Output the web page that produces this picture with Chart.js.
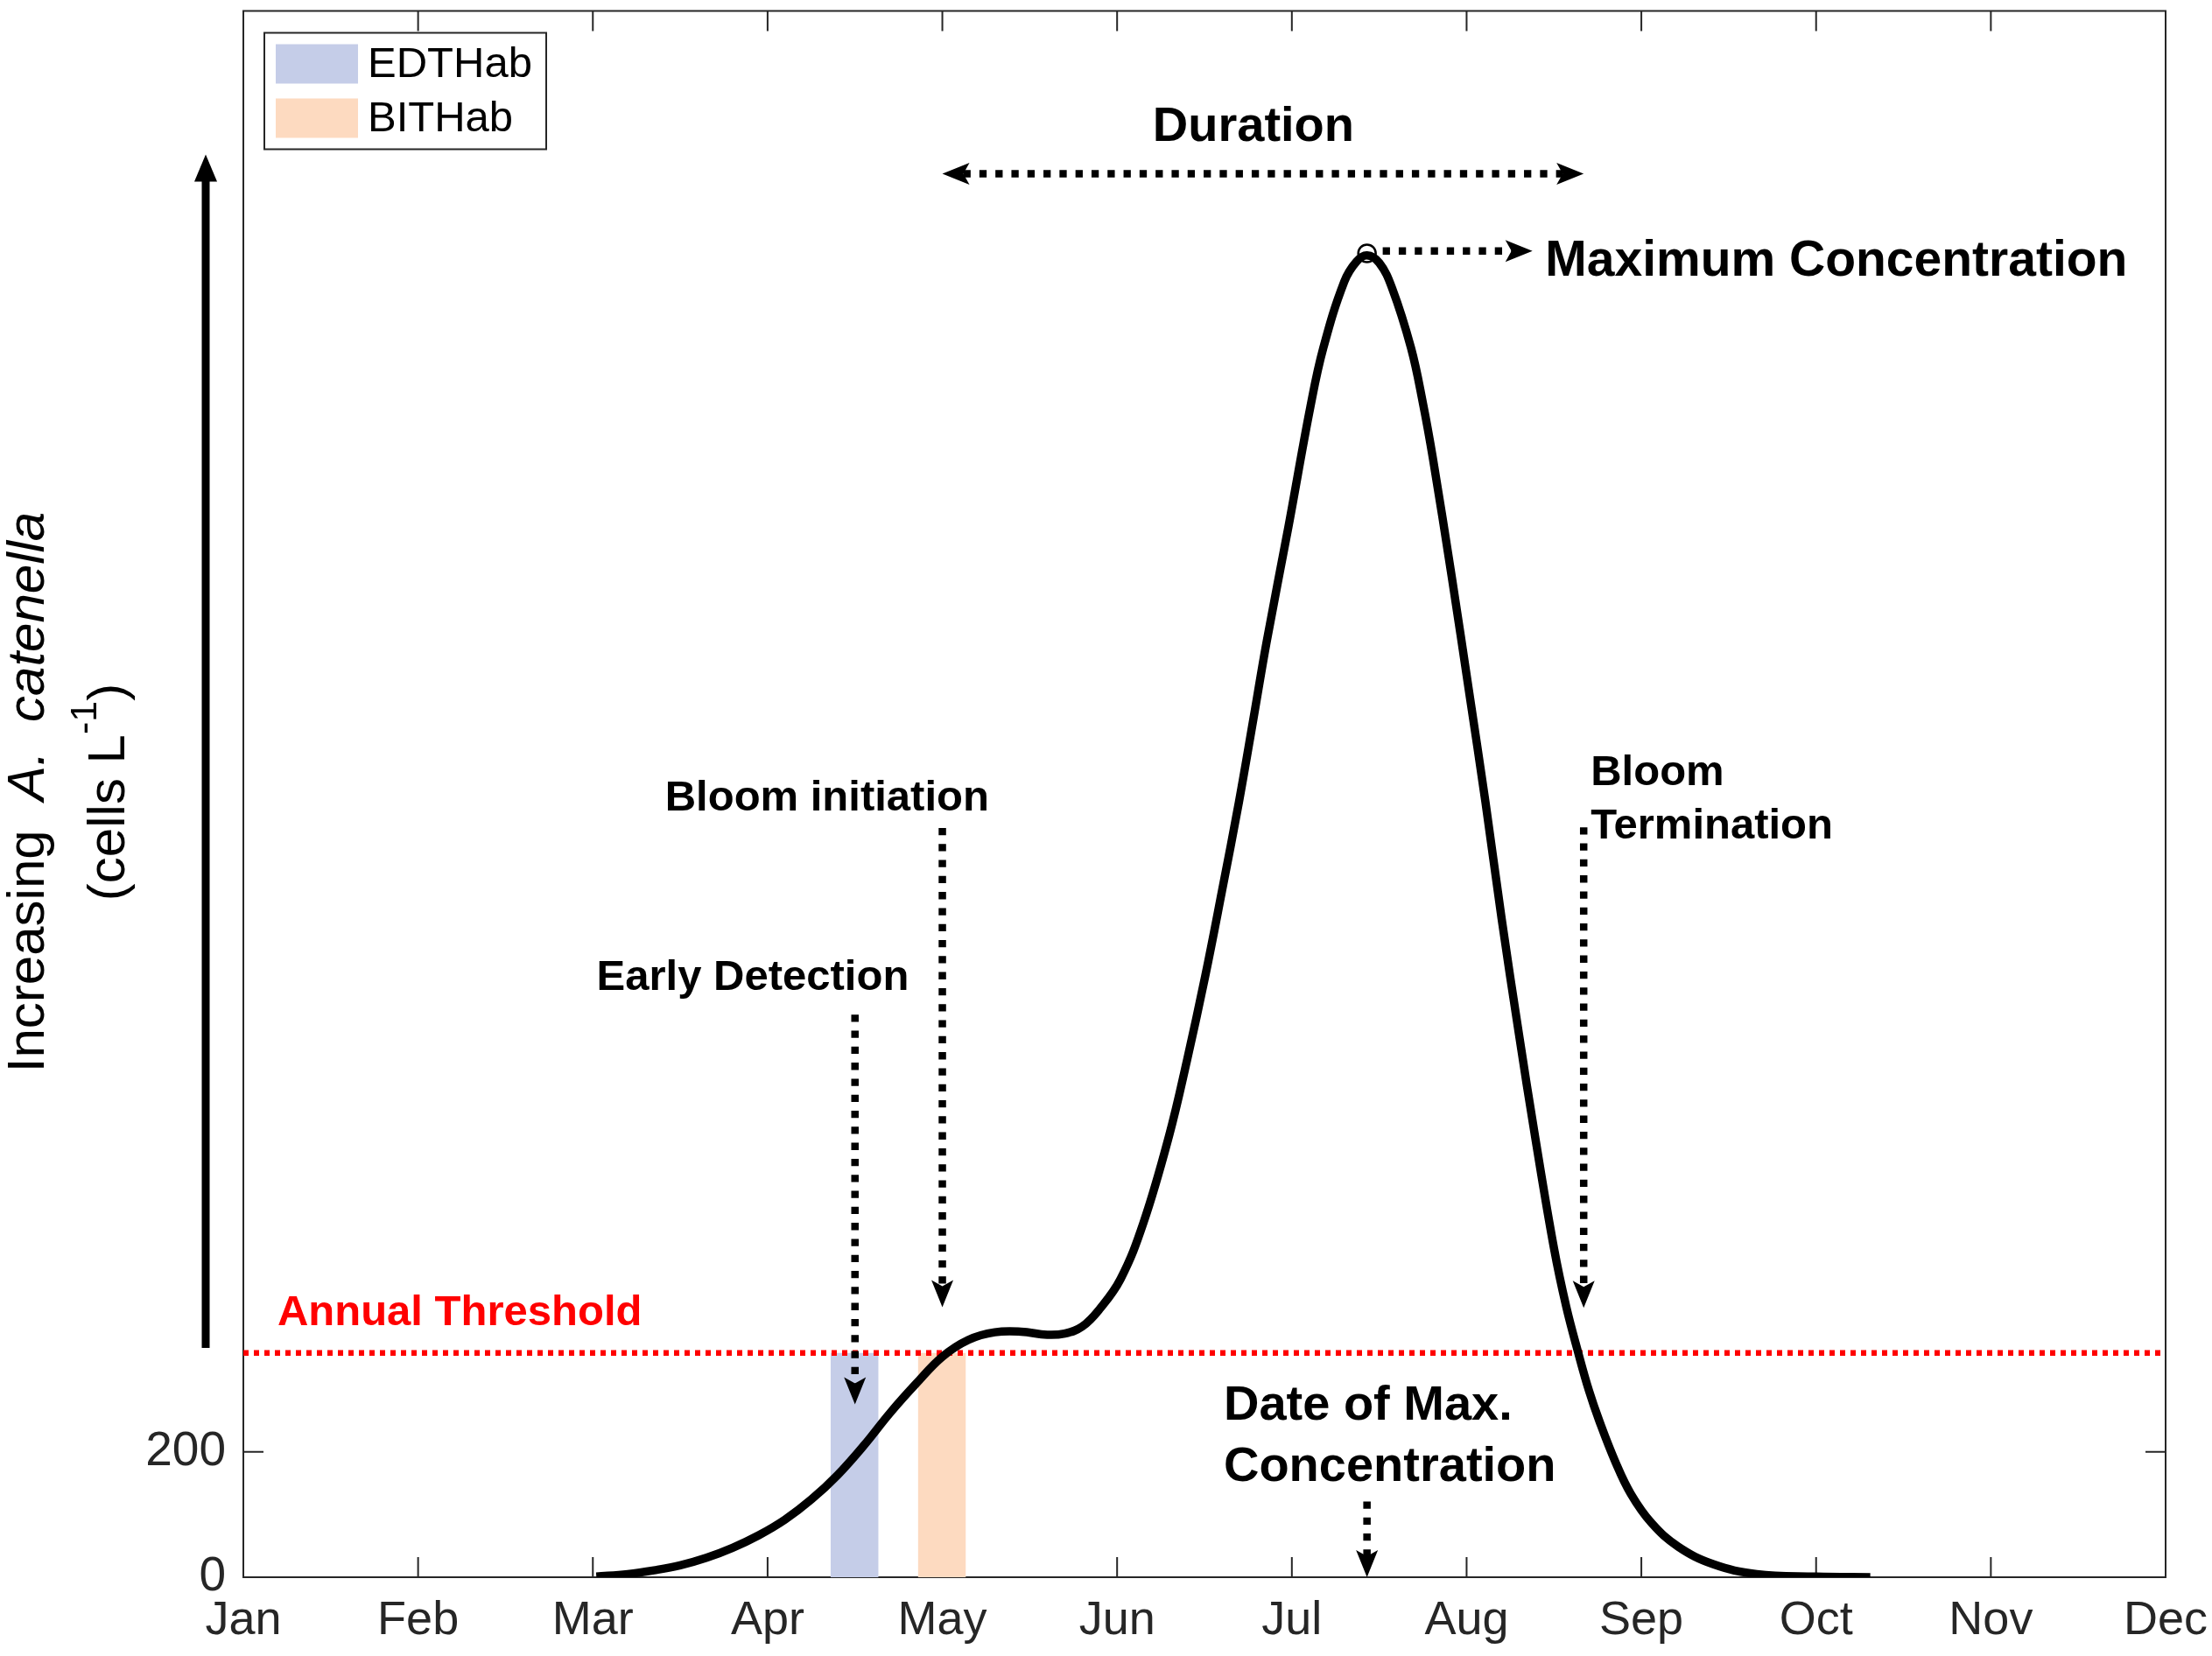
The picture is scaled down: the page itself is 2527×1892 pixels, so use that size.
<!DOCTYPE html>
<html>
<head>
<meta charset="utf-8">
<script src="https://cdn.jsdelivr.net/npm/chart.js@4.4.0/dist/chart.umd.min.js"></script>
<style>
html,body{margin:0;padding:0;background:#fff;overflow:hidden}
canvas{display:block}
</style>
</head>
<body>
<canvas id="c" width="2527" height="1892"></canvas>
<script>
// ---------------- DATA ----------------
const monthLabels = ['Jan','Feb','Mar','Apr','May','Jun','Jul','Aug','Sep','Oct','Nov','Dec'];
const yTickValues = [0, 200];
const yAxisMax = 2500;

// month index (0 = Jan) and cell concentration
const curveMonths = [2.02,2.20,2.35,2.50,2.65,2.80,2.95,3.10,3.25,3.40,3.55,3.70,3.85,4.00,4.15,4.30,4.45,4.60,4.70,4.80,4.90,5.02,5.15,5.296,5.40,5.504,5.60,5.697,5.78,5.855,5.98,6.106,6.18,6.30,6.37,6.43,6.50,6.573,6.682,6.75,6.807,6.916,7.016,7.108,7.20,7.30,7.392,7.50,7.57,7.64,7.70,7.76,7.85,7.94,8.06,8.21,8.41,8.66,9.00,9.31];
const curveCells  = [1,5,11,19,31,47,67,92,124,163,210,262,309,352,379,391,392,387,389,400,428,476,565,703,825,959,1095,1237,1370,1492,1676,1868,1962,2068,2100,2110,2098,2058,1962,1874,1786,1595,1410,1237,1052,866,703,525,432,357,298,249,185,133,86,49,21,5,1,0];

const annualThreshold = 358;
const thresholdMonths = [0, 11];
const edthabWindow = [3.36, 3.635];
const bithabWindow = [3.86, 4.135];

const peakMonth = 6.43;
const peakCells = 2113;
const earlyDetectionMonth = 3.50;
const bloomInitiationMonth = 4.00;
const bloomTerminationMonth = 7.67;

// ---------------- BUILD ----------------
const FONT = '"Liberation Sans", Arial, Helvetica, sans-serif';
const curvePoints = curveMonths.map((m, i) => ({x: m, y: curveCells[i]}));
const windowRect = w => [{x:w[0],y:0},{x:w[0],y:annualThreshold},{x:w[1],y:annualThreshold},{x:w[1],y:0}];

// annotation layout (data-space anchors)
const arrowNotes = [
  {x1: earlyDetectionMonth, y1: 898,  x2: earlyDetectionMonth, y2: 276, both:false},
  {x1: bloomInitiationMonth, y1: 1196, x2: bloomInitiationMonth, y2: 431, both:false},
  {x1: bloomTerminationMonth, y1: 1197, x2: bloomTerminationMonth, y2: 430, both:false},
  {x1: peakMonth, y1: 121, x2: peakMonth, y2: 0, both:false},
  {x1: bloomInitiationMonth, y1: 2240, x2: bloomTerminationMonth, y2: 2240, both:true},
  {x1: peakMonth + 0.09, y1: 2117, x2: 7.377, y2: 2117, both:false}
];
const textNotes = [
  {lines:['Duration'], x:5.78, y:2293, align:'center', size:56, gap:0},
  {lines:['Maximum Concentration'], x:7.45, y:2077, align:'left', size:57, gap:0},
  {lines:['Bloom initiation'], x:3.34, y:1224, align:'center', size:49, gap:0},
  {lines:['Early Detection'], x:2.915, y:938, align:'center', size:49, gap:0},
  {lines:['Bloom','Termination'], x:7.71, y:1265, align:'left', size:49, gap:61},
  {lines:['Date of Max.','Concentration'], x:5.61, y:251, align:'left', size:56, gap:70},
  {lines:['Annual Threshold'], x:0.195, y:402, align:'left', size:49, gap:0, color:'#ff0000'}
];

function arrowHead(ctx, tx, ty, ux, uy) {
  const L = 31, W = 25, notch = 7;
  const bx = tx - ux * L, by = ty - uy * L;
  const nx = -uy, ny = ux;
  ctx.beginPath();
  ctx.moveTo(tx, ty);
  ctx.lineTo(bx + nx * W / 2, by + ny * W / 2);
  ctx.lineTo(tx - ux * (L - notch), ty - uy * (L - notch));
  ctx.lineTo(bx - nx * W / 2, by - ny * W / 2);
  ctx.closePath();
  ctx.fill();
}
function dottedArrow(ctx, x1, y1, x2, y2, both) {
  const dx = x2 - x1, dy = y2 - y1, len = Math.hypot(dx, dy);
  const ux = dx / len, uy = dy / len;
  const back = 24;
  const sx = both ? x1 + ux * back : x1, sy = both ? y1 + uy * back : y1;
  const ex = x2 - ux * back, ey = y2 - uy * back;
  ctx.save();
  ctx.strokeStyle = '#000'; ctx.fillStyle = '#000';
  ctx.lineWidth = 8.5; ctx.lineCap = 'butt';
  ctx.setLineDash([8.3, 10]);
  ctx.beginPath(); ctx.moveTo(sx, sy); ctx.lineTo(ex, ey); ctx.stroke();
  ctx.setLineDash([]);
  arrowHead(ctx, x2, y2, ux, uy);
  if (both) arrowHead(ctx, x1, y1, -ux, -uy);
  ctx.restore();
}

const framePlugin = {
  id: 'frame',
  beforeDatasetsDraw(chart) {
    const {ctx, chartArea: a, scales: {x, y}} = chart;
    ctx.save();
    ctx.strokeStyle = '#262626'; ctx.lineWidth = 2;
    ctx.strokeRect(a.left, a.top, a.right - a.left, a.bottom - a.top);
    const TL = 23;
    ctx.beginPath();
    x.ticks.forEach(t => {
      const X = x.getPixelForValue(t.value);
      ctx.moveTo(X, a.bottom); ctx.lineTo(X, a.bottom - TL);
      ctx.moveTo(X, a.top); ctx.lineTo(X, a.top + TL);
    });
    y.ticks.forEach(t => {
      const Y = y.getPixelForValue(t.value);
      ctx.moveTo(a.left, Y); ctx.lineTo(a.left + TL, Y);
      ctx.moveTo(a.right, Y); ctx.lineTo(a.right - TL, Y);
    });
    ctx.stroke();
    ctx.restore();
  },
  afterDatasetsDraw(chart) {
    const {ctx, chartArea: a, scales: {x, y}} = chart;
    const px = v => x.getPixelForValue(v), py = v => y.getPixelForValue(v);
    arrowNotes.forEach(n => dottedArrow(ctx, px(n.x1), py(n.y1), px(n.x2), py(n.y2), n.both));
    ctx.save();
    ctx.textBaseline = 'alphabetic';
    textNotes.forEach(n => {
      ctx.font = `bold ${n.size}px ${FONT}`;
      ctx.fillStyle = n.color || '#000';
      ctx.textAlign = n.align;
      n.lines.forEach((ln, i) => ctx.fillText(ln, px(n.x), py(n.y) + i * n.gap));
    });
    ctx.restore();

    // legend
    ctx.save();
    const lx = a.left + 24, ly = a.top + 25, lw = 322, lh = 133;
    ctx.fillStyle = '#fff'; ctx.fillRect(lx, ly, lw, lh);
    ctx.strokeStyle = '#262626'; ctx.lineWidth = 2; ctx.strokeRect(lx, ly, lw, lh);
    const legendSets = chart.data.datasets.filter(d => d.inLegend);
    ctx.font = `49px ${FONT}`; ctx.textBaseline = 'middle'; ctx.textAlign = 'left';
    legendSets.forEach((d, i) => {
      const cy = ly + 36 + i * 62;
      ctx.fillStyle = d.backgroundColor;
      ctx.fillRect(lx + 13, cy - 23, 94, 45);
      ctx.fillStyle = '#000';
      ctx.fillText(d.label, lx + 118, cy + 1);
    });
    ctx.restore();

    // y-axis label and big arrow (outside the plot area)
    ctx.save();
    ctx.fillStyle = '#000';
    const cx = a.left - 43;
    const yb = py(annualThreshold + 8), yt = py(2271);
    ctx.fillRect(cx - 4.5, yt + 25, 9, yb - yt - 25);
    ctx.beginPath();
    ctx.moveTo(cx, yt); ctx.lineTo(cx - 13, yt + 31); ctx.lineTo(cx + 13, yt + 31); ctx.closePath(); ctx.fill();

    const midY = 905;
    ctx.translate(a.left - 228, midY);
    ctx.rotate(-Math.PI / 2);
    ctx.textBaseline = 'alphabetic'; ctx.textAlign = 'left';
    const segs1 = [['Increasing  ', ''], ['A.  catenella', 'italic ']];
    let w1 = 0;
    segs1.forEach(s => { ctx.font = `${s[1]}60px ${FONT}`; w1 += ctx.measureText(s[0]).width; });
    let cur = -w1 / 2;
    segs1.forEach(s => { ctx.font = `${s[1]}60px ${FONT}`; ctx.fillText(s[0], cur, 0); cur += ctx.measureText(s[0]).width; });
    const segs2 = [['(cells L', 60, 0], ['-1', 43, -32], [')', 60, 0]];
    let w2 = 0;
    segs2.forEach(s => { ctx.font = `${s[1]}px ${FONT}`; w2 += ctx.measureText(s[0]).width; });
    cur = -w2 / 2;
    segs2.forEach(s => { ctx.font = `${s[1]}px ${FONT}`; ctx.fillText(s[0], cur, 92 + s[2]); cur += ctx.measureText(s[0]).width; });
    ctx.restore();
  }
};

new Chart(document.getElementById('c'), {
  type: 'line',
  data: {
    datasets: [
      {label: 'A. catenella', data: curvePoints, borderColor: '#000', borderWidth: 9.5, pointRadius: 0,
       tension: 0.4, fill: false, borderCapStyle: 'butt', borderJoinStyle: 'round', order: 0},
      {label: 'Maximum', data: [{x: peakMonth, y: peakCells}], showLine: false, pointRadius: 10,
       pointBorderWidth: 2.5, pointBorderColor: '#000', pointBackgroundColor: 'rgba(0,0,0,0)', order: 0},
      {label: 'Annual Threshold', data: thresholdMonths.map(m => ({x: m, y: annualThreshold})), borderColor: '#ff0000',
       borderWidth: 6.5, borderDash: [6, 6], pointRadius: 0, fill: false, order: 1},
      {label: 'EDTHab', inLegend: true, data: windowRect(edthabWindow), borderWidth: 0, borderColor: 'rgba(0,0,0,0)',
       backgroundColor: 'rgb(197,205,232)', fill: 'origin', pointRadius: 0, tension: 0, order: 2},
      {label: 'BITHab', inLegend: true, data: windowRect(bithabWindow), borderWidth: 0, borderColor: 'rgba(0,0,0,0)',
       backgroundColor: 'rgb(253,218,192)', fill: 'origin', pointRadius: 0, tension: 0, order: 2}
    ]
  },
  options: {
    responsive: false,
    devicePixelRatio: 1,
    animation: false,
    layout: {padding: {top: 6, right: 53, left: 0, bottom: 0}},
    plugins: {legend: {display: false}, tooltip: {enabled: false}},
    scales: {
      x: {
        type: 'linear', min: 0, max: monthLabels.length - 1,
        afterBuildTicks: s => { s.ticks = monthLabels.map((_, i) => ({value: i})); },
        ticks: {callback: v => monthLabels[v], font: {family: FONT, size: 54}, color: '#262626',
                padding: 18, maxRotation: 0, autoSkip: false},
        grid: {display: false, drawTicks: false},
        border: {display: false},
        afterFit: s => { s.height = 90; s.paddingLeft = 0; s.paddingRight = 0; }
      },
      y: {
        type: 'linear', min: 0, max: yAxisMax,
        afterBuildTicks: s => { s.ticks = yTickValues.map(v => ({value: v})); },
        ticks: {font: {family: FONT, size: 55}, color: '#262626', padding: 20},
        grid: {display: false, drawTicks: false},
        border: {display: false},
        afterFit: s => { s.width = 278; s.paddingTop = 0; s.paddingBottom = 0; }
      }
    }
  },
  plugins: [framePlugin]
});
</script>
</body>
</html>
